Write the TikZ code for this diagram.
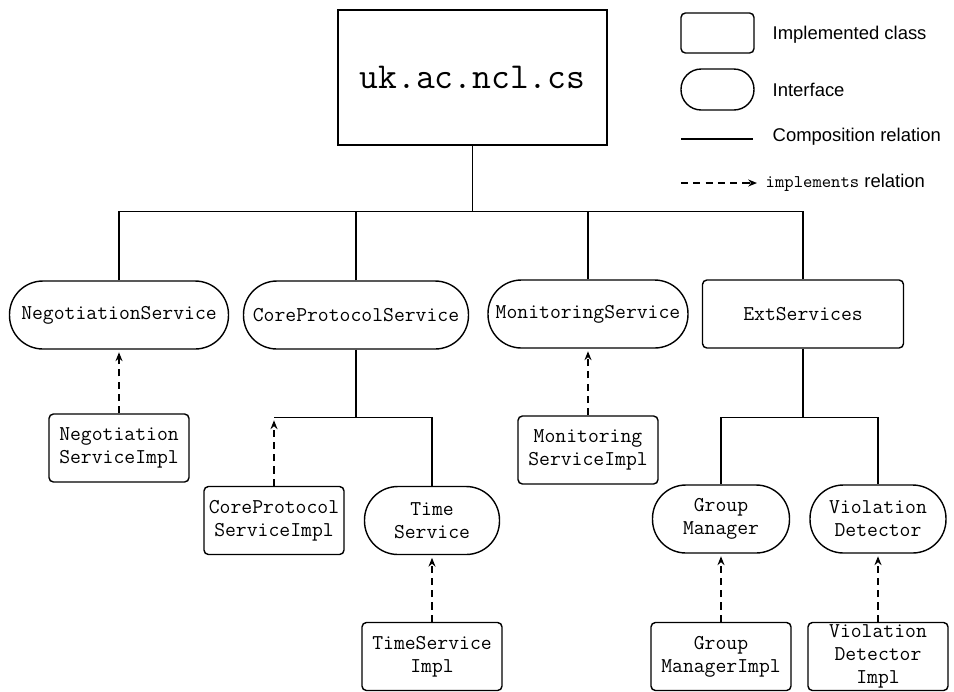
\documentclass[tikz,border=0pt]{standalone}
\usepackage{fontspec}
\setsansfont{Liberation Sans}
\usetikzlibrary{arrows.meta}

\begin{document}
\begin{tikzpicture}[x=0.02cm, y=-0.02cm, line width=0.8pt,
    every node/.style={font=\ttfamily\fontsize{12}{13}\selectfont, align=center, inner sep=0pt},
    implbox/.style={draw, rectangle, rounded corners=2.5pt, minimum width=2.8cm, minimum height=1.36cm},
    iface/.style={draw, rectangle, rounded corners=19pt, minimum height=1.36cm},
    implarrow/.style={dash pattern=on 4pt off 3pt, -{Stealth[length=5pt, width=4pt]}, shorten >=1.5pt},
    legendtext/.style={anchor=west, font=\sffamily\fontsize{10.5}{12}\selectfont}]
    \useasboundingbox (0,0) rectangle (954,691);

    % package
    \node[draw, minimum width=5.38cm, minimum height=2.7cm, font=\ttfamily\fontsize{20.8}{24}\selectfont] (pkg) at (472.5,77.5) {uk.ac.ncl.cs};

    % first level
    \node[iface, minimum width=4.38cm] (neg) at (119,315) {NegotiationService};
    \node[iface, minimum width=4.5cm] (core) at (356,315) {CoreProtocolService};
    \node[iface, minimum width=4.0cm] (mon) at (588,314) {MonitoringService};
    \node[implbox, minimum width=4.02cm] (ext) at (803,314) {ExtServices};

    % second level
    \node[implbox] (negimpl) at (119,448) {Negotiation\\ServiceImpl};
    \node[implbox] (monimpl) at (588,450) {Monitoring\\ServiceImpl};
    \node[implbox] (coreimpl) at (274,520.5) {CoreProtocol\\ServiceImpl};
    \node[iface, minimum width=2.7cm] (time) at (432,520.5) {Time\\Service};
    \node[iface, minimum width=2.74cm] (gm) at (721,519) {Group\\Manager};
    \node[iface, minimum width=2.72cm] (vd) at (878,519) {Violation\\Detector};

    % third level
    \node[implbox] (timeimpl) at (432,656.5) {TimeService\\Impl};
    \node[implbox] (gmimpl) at (721,656.5) {Group\\ManagerImpl};
    \node[implbox] (vdimpl) at (878,656.5) {Violation\\Detector\\Impl};

    % composition
    \draw (pkg.south) -- ++(0,66) coordinate (top);
    \draw (neg.north) |- (top);
    \draw (ext.north) |- (top);
    \draw (core.north) -- (core.north |- top);
    \draw (mon.north) -- (mon.north |- top);
    \draw (core.south) -- ++(0,68) coordinate (corejoin);
    \draw (time.north) |- (coreimpl.north |- corejoin);
    \draw (ext.south) -- ++(0,69) coordinate (extjoin);
    \draw (gm.north) |- (extjoin) -| (vd.north);

    % implements
    \draw[implarrow] (negimpl.north) -- (neg.south);
    \draw[implarrow] (monimpl.north) -- (mon.south);
    \draw[implarrow] (coreimpl.north) -- (coreimpl.north |- corejoin);
    \draw[implarrow] (timeimpl.north) -- (time.south);
    \draw[implarrow] (gmimpl.north) -- (gm.south);
    \draw[implarrow] (vdimpl.north) -- (vd.south);

    % legend
    \node[implbox, minimum width=1.46cm, minimum height=0.8cm] (lgclass) at (717.5,33) {};
    \node[draw, rounded corners=11.5pt, minimum width=1.46cm, minimum height=0.82cm] (lgiface) at (717.5,89.5) {};
    \node[legendtext] (lgclasstext) at (772,35) {Implemented class};
    \node[legendtext] (lgifacetext) at (772,90) {Interface};
    \node[legendtext] (lgcomptext) at (772,137) {Composition relation};
    \node[legendtext] (lgimpltext) at (765,183) {{\ttfamily\fontsize{10.15}{12}\selectfont implements} relation};
    \coordinate (lgcompa) at (681,139);
    \coordinate (lgcompb) at (753,139);
    \coordinate (lgimpla) at (681,183);
    \coordinate (lgimplb) at (757,183);
    \draw (lgcompa) -- (lgcompb);
    \draw[implarrow, shorten >=0pt] (lgimpla) -- (lgimplb);
\end{tikzpicture}
\end{document}
